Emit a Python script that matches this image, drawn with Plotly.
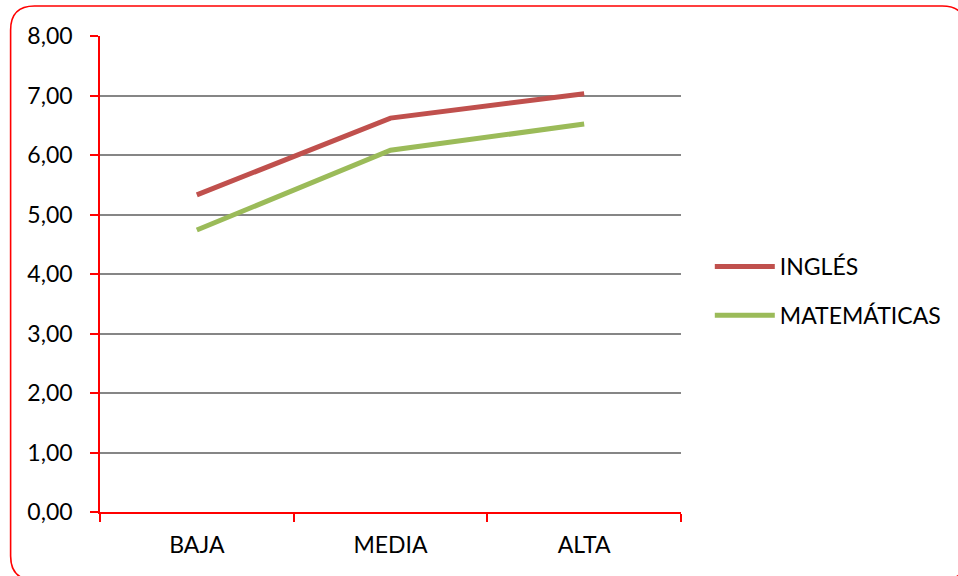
import plotly.graph_objects as go

# Average score by level, per subject
niveles = ["BAJA", "MEDIA", "ALTA"]
ingles = [5.33, 6.62, 7.03]
matematicas = [4.74, 6.08, 6.52]
y_ticks = [0, 1, 2, 3, 4, 5, 6, 7, 8]

W, H = 958, 576
ML, MR, MT, MB = 100, 273, 36, 64
PW, PH = W - ML - MR, H - MT - MB

FONT = dict(family="Lato, 'DejaVu Sans', sans-serif", size=23, color="#000000")
AXIS_RED = "#FF0000"

fig = go.Figure()
fig.add_trace(go.Scatter(
    x=niveles, y=ingles, name="INGLÉS", mode="lines",
    line=dict(color="#C0504D", width=5), legendgroup="a",
))
fig.add_trace(go.Scatter(
    x=niveles, y=matematicas, name="MATEMÁTICAS", mode="lines",
    line=dict(color="#9BBB59", width=5), legendgroup="b",
))


def px_x(px):
    return (px - ML) / PW


def px_y(py):
    return (H - MB - py) / PH


# rounded frame around the whole chart (partly running off the page edge)
left, top, right, bottom, r = 10, 6, 972, 580, 24
pts = [
    ("M", [(left + r, top)]),
    ("L", [(right - r, top)]),
    ("Q", [(right, top), (right, top + r)]),
    ("L", [(right, bottom - r)]),
    ("Q", [(right, bottom), (right - r, bottom)]),
    ("L", [(left + r, bottom)]),
    ("Q", [(left, bottom), (left, bottom - r)]),
    ("L", [(left, top + r)]),
    ("Q", [(left, top), (left + r, top)]),
]
path = " ".join(
    cmd + " " + " ".join(f"{px_x(a):.5f},{px_y(b):.5f}" for a, b in coords)
    for cmd, coords in pts
) + " Z"
fig.add_shape(type="path", path=path, xref="paper", yref="paper",
              line=dict(color=AXIS_RED, width=1.6), layer="above")

fig.update_layout(
    width=W, height=H,
    margin=dict(l=ML, r=MR, t=MT, b=MB, pad=0),
    paper_bgcolor="#FFFFFF", plot_bgcolor="#FFFFFF",
    font=FONT,
    separators=",.",
    showlegend=True,
    legend=dict(
        x=px_x(714), y=px_y(291), xanchor="left", yanchor="middle",
        font=FONT, itemwidth=60, tracegroupgap=16,
        bgcolor="rgba(0,0,0,0)", traceorder="grouped",
    ),
    xaxis=dict(
        type="category", range=[-0.5, 2.5],
        showline=True, linecolor=AXIS_RED, linewidth=1.6,
        ticks="outside", tickson="boundaries", ticklen=8,
        tickcolor=AXIS_RED, tickwidth=1.6,
        showgrid=False, zeroline=False, tickfont=FONT,
        ticklabelstandoff=12,
    ),
    yaxis=dict(
        range=[0, 8], tickvals=y_ticks, tickformat=".2f",
        showline=True, linecolor=AXIS_RED, linewidth=1.6,
        ticks="outside", ticklen=8, tickcolor=AXIS_RED, tickwidth=1.6,
        showgrid=True, gridcolor="#868686", gridwidth=1.5,
        zeroline=False, tickfont=FONT, ticklabelstandoff=13,
    ),
)

fig.write_html("out.html")
